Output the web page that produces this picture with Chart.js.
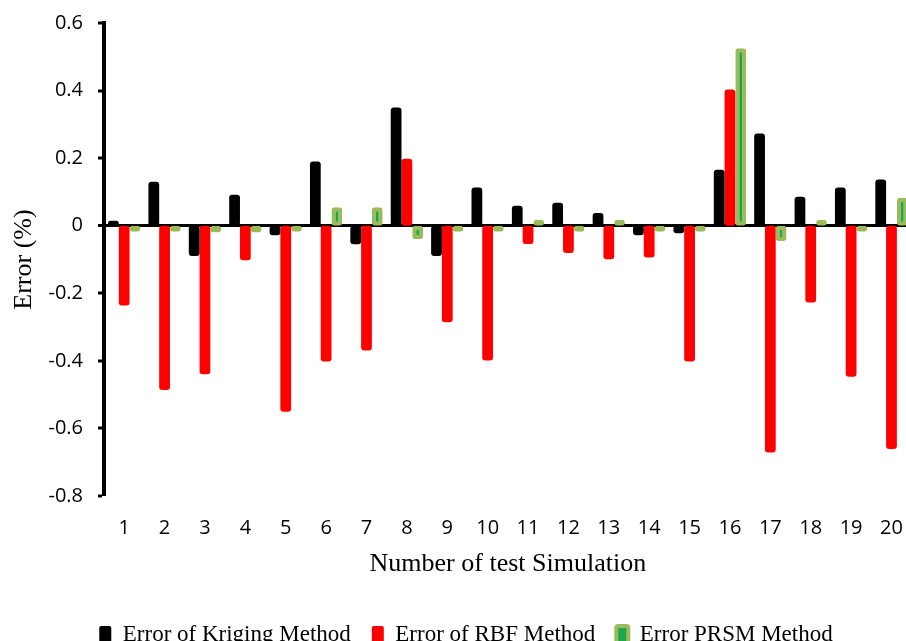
<!DOCTYPE html>
<html>
<head>
<meta charset="utf-8">
<script src="https://cdn.jsdelivr.net/npm/chart.js@4/dist/chart.umd.min.js"></script>
<style>
  html, body { margin: 0; padding: 0; background: #ffffff; overflow: hidden; }
  #wrap { width: 923px; height: 656px; }
</style>
</head>
<body>
<div id="wrap"><canvas id="c" width="923" height="656"></canvas></div>
<script>
const categories = ['1','2','3','4','5','6','7','8','9','10','11','12','13','14','15','16','17','18','19','20'];
const krigingErr = [0.015, 0.13, -0.09, 0.092, -0.028, 0.19, -0.055, 0.35, -0.09, 0.113, 0.059, 0.068, 0.038, -0.028, -0.022, 0.166, 0.273, 0.086, 0.113, 0.137];
const rbfErr = [-0.236, -0.486, -0.44, -0.102, -0.551, -0.402, -0.369, 0.198, -0.286, -0.399, -0.054, -0.081, -0.099, -0.094, -0.402, 0.403, -0.671, -0.227, -0.447, -0.661];
const prsmErr = [-0.01, -0.008, -0.02, -0.02, -0.008, 0.055, 0.055, -0.04, -0.018, -0.008, 0.012, -0.01, 0.006, -0.018, -0.005, 0.525, -0.045, 0.012, -0.01, 0.083];
const yTickLabels = ['-0.8', '-0.6', '-0.4', '-0.2', '0', '0.2', '0.4', '0.6'];
const seriesNames = ['Error of Kriging Method', 'Error of RBF Method', 'Error PRSM Method'];

const serif = "'Liberation Serif', 'Times New Roman', serif";
const sans = "'Open Sans', 'Noto Sans', sans-serif";

new Chart(document.getElementById('c'), {
  type: 'bar',
  data: {
    labels: categories,
    datasets: [
      { label: seriesNames[0], data: krigingErr, backgroundColor: '#000000', borderColor: '#000000', borderWidth: 0, borderRadius: 3, borderSkipped: false },
      { label: seriesNames[1], data: rbfErr, backgroundColor: '#FF0000', borderColor: '#FF0000', borderWidth: 0, borderRadius: 3, borderSkipped: false },
      { label: seriesNames[2], data: prsmErr, backgroundColor: '#1EA64A', borderColor: '#9BBB59', borderWidth: 4, borderRadius: 3, borderSkipped: false, minBarLength: 6 }
    ]
  },
  options: {
    responsive: false,
    animation: false,
    devicePixelRatio: 1,
    layout: { padding: { top: 23, left: 12, right: 3, bottom: 0 } },
    datasets: { bar: { categoryPercentage: 0.8, barPercentage: 1.0 } },
    plugins: {
      tooltip: { enabled: false },
      legend: {
        position: 'bottom',
        labels: {
          font: { family: serif, size: 23 },
          color: '#000000',
          boxWidth: 12,
          boxHeight: 17,
          padding: 21,
          useBorderRadius: true,
          borderRadius: 2
        }
      }
    },
    scales: {
      x: {
        grid: { display: false, drawTicks: false, tickLength: 0 },
        border: { display: false },
        ticks: { font: { family: sans, size: 20 }, color: '#000000', padding: 20, maxRotation: 0, autoSkip: false },
        title: { display: true, text: 'Number of test Simulation', font: { family: serif, size: 26 }, color: '#000000', padding: { top: 8, bottom: 22 } },
        afterFit: (s) => { s.height = 106; }
      },
      y: {
        min: -0.8,
        max: 0.6,
        z: 1,
        ticks: {
          stepSize: 0.2,
          font: { family: sans, size: 20 },
          color: '#000000',
          padding: 15,
          callback: (v, i) => yTickLabels[i]
        },
        grid: {
          drawOnChartArea: true,
          drawTicks: true,
          tickLength: 6,
          tickColor: '#000000',
          tickWidth: 3,
          lineWidth: (ctx) => (ctx.tick && Math.abs(ctx.tick.value) < 1e-9 ? 3 : 0),
          color: (ctx) => (ctx.tick && Math.abs(ctx.tick.value) < 1e-9 ? '#000000' : 'rgba(0,0,0,0)')
        },
        border: { display: true, color: '#000000', width: 4 },
        title: { display: true, text: 'Error (%)', font: { family: serif, size: 26 }, color: '#000000', padding: { top: -3, bottom: 0 } },
        afterFit: (s) => { s.width = 92; s.paddingTop = 12; s.paddingBottom = 12; }
      }
    }
  }
});
</script>
</body>
</html>
